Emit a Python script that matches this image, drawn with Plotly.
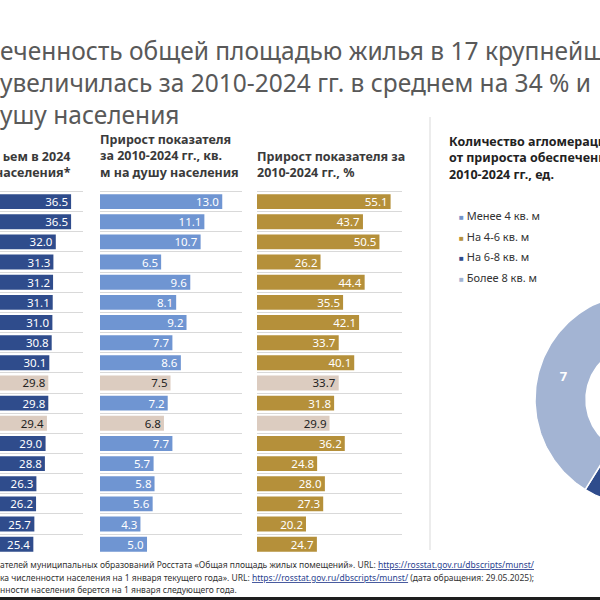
import numpy as np
import plotly.graph_objects as go

# ---------------- data ----------------
rows = ["Агломерация 1", "Агломерация 2", "Агломерация 3", "Агломерация 4",
        "Агломерация 5", "Агломерация 6", "Агломерация 7", "Агломерация 8",
        "Агломерация 9", "В среднем", "Агломерация 10", "Россия",
        "Агломерация 11", "Агломерация 12", "Агломерация 13", "Агломерация 14",
        "Агломерация 15", "Агломерация 16"]
highlight = [False, False, False, False, False, False, False, False, False,
             True, False, True, False, False, False, False, False, False]
area_2024 = [36.5, 36.5, 32.0, 31.3, 31.2, 31.1, 31.0, 30.8, 30.1,
             29.8, 29.8, 29.4, 29.0, 28.8, 26.3, 26.2, 25.7, 25.4]
growth_abs = [13.0, 11.1, 10.7, 6.5, 9.6, 8.1, 9.2, 7.7, 8.6,
              7.5, 7.2, 6.8, 7.7, 5.7, 5.8, 5.6, 4.3, 5.0]
growth_pct = [55.1, 43.7, 50.5, 26.2, 44.4, 35.5, 42.1, 33.7, 40.1,
              33.7, 31.8, 29.9, 36.2, 24.8, 28.0, 27.3, 20.2, 24.7]

donut_labels = ["Менее 4 кв. м", "На 4-6 кв. м", "На 6-8 кв. м", "Более 8 кв. м"]
donut_counts = [0, 5, 5, 7]

title_lines = ["еченность общей площадью жилья в 17 крупнейш",
               "увеличилась за 2010-2024 гг. в среднем на 34 % и",
               "ушу населения"]
header1 = ["ьем в 2024", "населения*"]
header2 = ["Прирост показателя", "за 2010-2024 гг., кв.", "м на душу населения"]
header3 = ["Прирост показателя за", "2010-2024 гг., %"]
header4 = ["Количество агломераци", "от прироста обеспеченн", "2010-2024 гг., ед."]

# ---------------- style ----------------
FONT = "Noto Sans"
C_DARK = "#2F4C8C"
C_LIGHT = "#6F95D2"
C_GOLD = "#B5903A"
C_BEIGE = "#DCCCC0"
DONUT_COLORS = ["#7393C9", "#B5903A", "#2F4C8C", "#A3B4D3"]
GRID = "#D9D9D9"
W = H = 600


def px(y):
    return 1 - y / H


def bar_colors(base):
    return [C_BEIGE if h else base for h in highlight]


def text_colors():
    return ["#222222" if h else "white" for h in highlight]


fig = go.Figure()

panels = [(area_2024, C_DARK, "x", "y"),
          (growth_abs, C_LIGHT, "x2", "y2"),
          (growth_pct, C_GOLD, "x3", "y3")]
for vals, col, xa, ya in panels:
    fig.add_trace(go.Bar(
        x=vals, y=rows, orientation="h", xaxis=xa, yaxis=ya,
        marker=dict(color=bar_colors(col), line=dict(width=0)),
        text=[f"{v:.1f}" for v in vals], textposition="inside",
        insidetextanchor="end", textangle=0, constraintext="none",
        textfont=dict(family=FONT, size=11.5, color=text_colors()),
        hoverinfo="skip", showlegend=False))

# ---------------- donut (its right part lies beyond the picture) ----------------
R_OUT, R_IN = 106, 55
X4_RANGE = [-191, -41]
Y4_RANGE = [-165.5, 114.5]
total = sum(donut_counts)
cum = np.concatenate([[0], np.cumsum(donut_counts)])
for i, (lab, cnt, col) in enumerate(zip(donut_labels, donut_counts, DONUT_COLORS)):
    if cnt == 0:
        continue
    a0 = 90 - cum[i] / total * 360
    a1 = 90 - cum[i + 1] / total * 360
    t = np.radians(np.linspace(a0, a1, 120))
    xs = np.concatenate([R_OUT * np.cos(t), R_IN * np.cos(t[::-1])])
    ys = np.concatenate([R_OUT * np.sin(t), R_IN * np.sin(t[::-1])])
    xs = np.append(xs, xs[0])
    ys = np.append(ys, ys[0])
    fig.add_trace(go.Scatter(x=xs, y=ys, mode="lines", fill="toself",
                             fillcolor=col, line=dict(color="white", width=1.5),
                             xaxis="x4", yaxis="y4", name=lab,
                             hoverinfo="skip", showlegend=False))
    am = np.radians((a0 + a1) / 2)
    rm = (R_OUT + R_IN) / 2
    lx, ly = rm * np.cos(am), rm * np.sin(am)
    if lx < X4_RANGE[1] - 10:  # only labels that fall inside the visible part
        fig.add_trace(go.Scatter(x=[lx], y=[ly], mode="text", text=[str(cnt)],
                                 textfont=dict(family=FONT, size=13, color="white",
                                               weight="bold"),
                                 xaxis="x4", yaxis="y4", hoverinfo="skip",
                                 showlegend=False))

# ---------------- axes ----------------
ydom = [px(555.3), px(190.5)]
yax = dict(type="category", range=[17.55, -0.55], domain=ydom, tickson="boundaries",
           showgrid=True, gridcolor=GRID, gridwidth=1, showticklabels=False,
           ticks="", zeroline=False, showline=False, fixedrange=True)
xax = dict(showgrid=False, zeroline=False, showticklabels=False, ticks="",
           showline=False, fixedrange=True)

fig.update_layout(
    width=W, height=H, margin=dict(l=0, r=0, t=0, b=0),
    paper_bgcolor="white", plot_bgcolor="white", showlegend=False,
    font=dict(family=FONT, color="#333333"),
    bargap=0.26,
    xaxis=dict(xax, domain=[0, 83 / W], range=[15.6, 40.0], anchor="y"),
    xaxis2=dict(xax, domain=[100 / W, 242 / W], range=[0, 15.1], anchor="y2"),
    xaxis3=dict(xax, domain=[257 / W, 402 / W], range=[0, 59.8], anchor="y3"),
    yaxis=dict(yax, anchor="x"),
    yaxis2=dict(yax, anchor="x2"),
    yaxis3=dict(yax, anchor="x3"),
    xaxis4=dict(xax, domain=[450 / W, 1.0], range=X4_RANGE, anchor="y4"),
    yaxis4=dict(xax, domain=[px(565), px(285)], range=Y4_RANGE, anchor="x4"),
)

ann = []


def add_text(lines, x, y, size, color="#333333", anchor="left", bold=False):
    ann.append(dict(text="<br>".join(lines), x=x / W, y=px(y), xref="paper",
                    yref="paper", xanchor=anchor, yanchor="middle", align=anchor,
                    showarrow=False,
                    font=dict(family=FONT, size=size, color=color,
                              weight="bold" if bold else "normal")))


# main title
add_text(title_lines, -2, 83, 24.5, color="#595959")

# panel headers
add_text(header1, 73, 164, 12.5, "#3A3A3A", anchor="right", bold=True)
add_text(header2, 98, 156, 12.5, "#3A3A3A", bold=True)
add_text(header3, 255, 164, 12.5, "#3A3A3A", bold=True)
add_text(header4, 447, 158, 12.5, "#222222", bold=True)

# legend of the donut
for lab, col, y in zip(donut_labels, DONUT_COLORS, [215, 236, 256, 277]):
    add_text([f"<span style='color:{col};font-size:8px'>■</span> {lab}"],
             457, y, 11, "#333333")

# footnotes
URL = "<span style='color:#2A3F8F'><u>https://rosstat.gov.ru/dbscripts/munst/</u></span>"
foot = ["ателей муниципальных образований Росстата «Общая площадь жилых помещений». URL: " + URL,
        "ка численности населения на 1 января текущего года». URL: " + URL +
        " (дата обращения: 29.05.2025);",
        "нности населения берется на 1 января следующего года."]
for line, y in zip(foot, [564, 577, 589]):
    add_text([line], -2, y, 8.5, "#333333")

fig.update_layout(annotations=ann)

fig.update_layout(shapes=[
    dict(type="line", xref="paper", yref="paper", x0=430 / W, x1=430 / W,
         y0=px(550), y1=px(117), line=dict(color=GRID, width=1)),
    dict(type="rect", xref="paper", yref="paper", x0=0, x1=1, y0=0, y1=px(597),
         fillcolor="#1E1E1E", line=dict(width=0)),
])

fig.write_html("out.html")
